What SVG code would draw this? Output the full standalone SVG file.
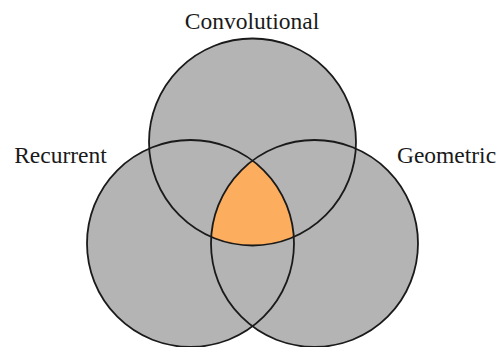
<svg xmlns="http://www.w3.org/2000/svg" width="504" height="347" viewBox="0 0 504 347">
<style>
.fill{fill:#b4b4b4;stroke:none}
.ring{fill:none;stroke:#1a1a1a;stroke-width:1.8}
.lbl{font-family:"Liberation Serif","Times New Roman",serif;font-size:23.5px;fill:#1a1a1a}
</style>
<defs>
<clipPath id="cL"><circle cx="190.5" cy="243.5" r="103.5"/></clipPath>
<clipPath id="cR"><circle cx="314.5" cy="243.5" r="103.5"/></clipPath>
</defs>
<rect width="504" height="347" fill="#ffffff"/>
<g id="fills">
<circle class="fill" cx="252.5" cy="142" r="103.5"/>
<circle class="fill" cx="190.5" cy="243.5" r="103.5"/>
<circle class="fill" cx="314.5" cy="243.5" r="103.5"/>
</g>
<g id="intersection" clip-path="url(#cL)">
<g clip-path="url(#cR)">
<circle cx="252.5" cy="142" r="103.5" fill="#fdad5e"/>
</g>
</g>
<g id="convolutional">
<circle class="ring" cx="252.5" cy="142" r="103.5"/>
<text class="lbl" x="252" y="28.5" text-anchor="middle">Convolutional</text>
</g>
<g id="recurrent">
<circle class="ring" cx="190.5" cy="243.5" r="103.5"/>
<text class="lbl" x="60.5" y="162.5" text-anchor="middle">Recurrent</text>
</g>
<g id="geometric">
<circle class="ring" cx="314.5" cy="243.5" r="103.5"/>
<text class="lbl" x="446.5" y="162.5" text-anchor="middle">Geometric</text>
</g>
<g id="connectors"/>
</svg>
